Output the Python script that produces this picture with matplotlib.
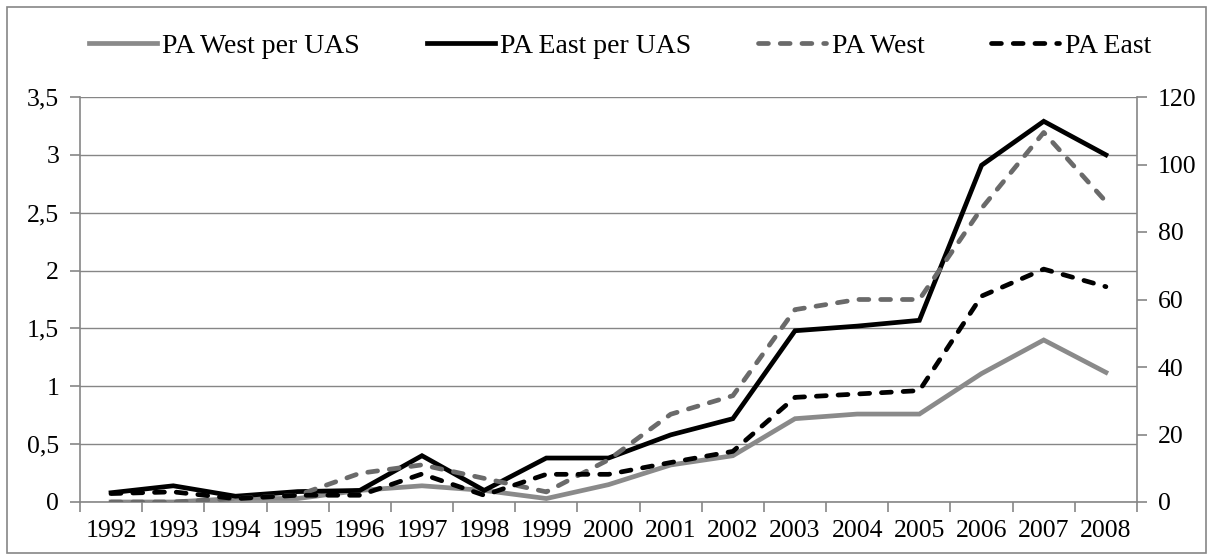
import matplotlib
matplotlib.use("Agg")
import matplotlib.pyplot as plt
from matplotlib.patches import Rectangle
from matplotlib.ticker import FuncFormatter, MultipleLocator

years = ["1992", "1993", "1994", "1995", "1996", "1997", "1998", "1999", "2000",
         "2001", "2002", "2003", "2004", "2005", "2006", "2007", "2008"]

# left axis: patent applications per UAS
pa_west_per_uas = [0.0, 0.0, 0.03, 0.03, 0.1, 0.14, 0.1, 0.03, 0.15, 0.32, 0.4,
                   0.72, 0.76, 0.76, 1.11, 1.4, 1.12]
pa_east_per_uas = [0.08, 0.14, 0.05, 0.09, 0.1, 0.4, 0.1, 0.38, 0.38, 0.58, 0.72,
                   1.48, 1.52, 1.57, 2.91, 3.29, 3.0]

# right axis: patent applications
pa_west = [0, 0, 1, 2, 8.5, 11, 7, 3, 12.5, 26, 31.5, 57, 60, 60, 87, 109.5, 89]
pa_east = [2.5, 3, 1, 2, 2, 8.3, 2, 8.2, 8.2, 11.7, 15, 31, 32, 33, 61, 69, 63.8]

GRID = "#868686"
LIGHT = "#8a8a8a"
MID = "#6a6a6a"

plt.rcParams.update({
    "font.family": ["Liberation Serif", "DejaVu Serif"],
    "font.size": 18.5,
})

fig = plt.figure(figsize=(12.13, 5.6), dpi=100)
ax = fig.add_axes([80 / 1213, 58 / 560, 1057 / 1213, 405 / 560])
ax2 = ax.twinx()

x = list(range(len(years)))
lw = 3.4
dash = dict(linestyle=(0, (2.1, 2.5)), dash_capstyle="round")

l1, = ax.plot(x, pa_west_per_uas, color=LIGHT, lw=lw, solid_joinstyle="miter",
              label="PA West per UAS")
l2, = ax.plot(x, pa_east_per_uas, color="black", lw=lw, solid_joinstyle="miter",
              label="PA East per UAS")
l3, = ax2.plot(x, pa_west, color=MID, lw=lw, label="PA West", **dash)
l4, = ax2.plot(x, pa_east, color="black", lw=lw, label="PA East", **dash)

ax.set_xlim(-0.5, len(years) - 0.5)
ax.set_ylim(0, 3.5)
ax2.set_ylim(0, 120)
ax.yaxis.set_major_locator(MultipleLocator(0.5))
ax2.yaxis.set_major_locator(MultipleLocator(20))
ax.yaxis.set_major_formatter(FuncFormatter(lambda v, p: f"{v:g}".replace(".", ",")))
ax.grid(axis="y", color=GRID, lw=1.0)
ax.set_axisbelow(True)

ax.set_xticks(x)
ax.set_xticklabels(years)
ax.set_xticks([i - 0.5 for i in range(len(years) + 1)], minor=True)
ax.tick_params(axis="x", which="major", length=0, pad=13)
ax.tick_params(axis="x", which="minor", length=7, width=1.2, color=GRID)
ax.tick_params(axis="y", length=7, width=1.2, color=GRID, pad=8)
ax2.tick_params(axis="y", length=7, width=1.2, color=GRID, pad=8)

for a in (ax, ax2):
    a.spines["top"].set_visible(False)
    for s in ("left", "right", "bottom"):
        a.spines[s].set_color(GRID)
        a.spines[s].set_linewidth(1.2)
ax2.spines["left"].set_visible(False)
ax2.spines["bottom"].set_visible(False)
ax.spines["right"].set_visible(False)

leg = fig.legend(handles=[l1, l2, l3, l4], loc="center", ncol=4,
                 bbox_to_anchor=(0.511, 1 - 46 / 560), frameon=False,
                 fontsize=20, handlelength=2.45, handletextpad=0.2,
                 columnspacing=2.4)

fig.add_artist(Rectangle((7 / 1213, 7 / 560), 1199 / 1213, 546 / 560,
                         transform=fig.transFigure, fill=False,
                         edgecolor=GRID, lw=1.2))

fig.savefig("out.png", dpi=100, facecolor="white")
